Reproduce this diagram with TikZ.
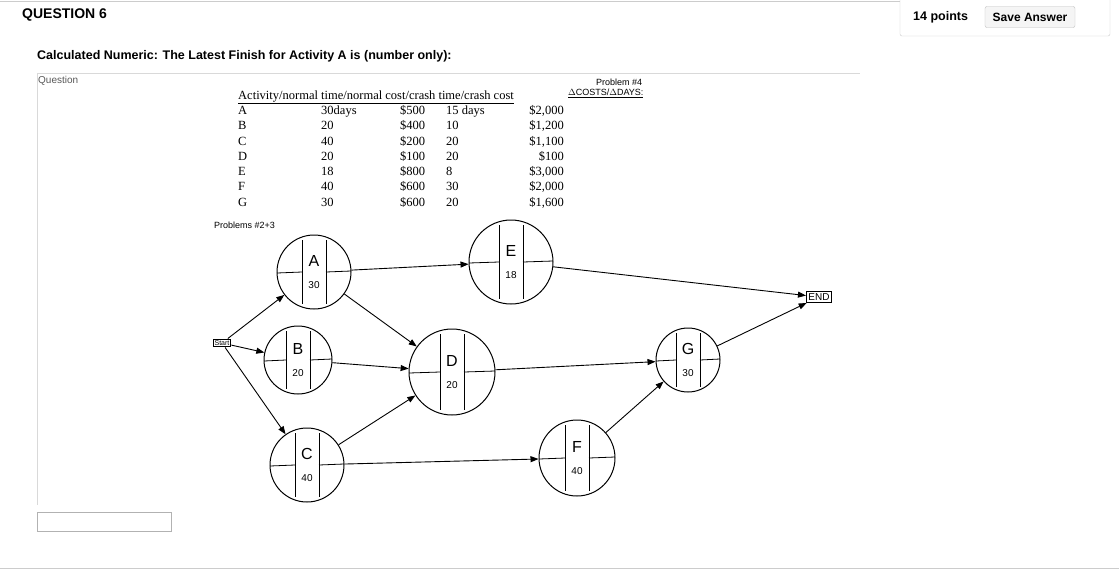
\documentclass[tikz,border=0pt]{standalone}
\usepackage{fontspec}
\setmainfont{Liberation Serif}
\newfontfamily\sans{Liberation Sans}
\usetikzlibrary{arrows.meta}
\begin{document}
\begin{tikzpicture}[x=1pt,y=-1pt,
  act/.style={draw,circle,line width=1pt,minimum size=2*#1,inner sep=0},
  box/.style={draw,line width=1pt,font=\sans\fontsize{10}{10}\selectfont,inner sep=2pt},
  arr/.style={line width=0.9pt,-{Triangle[length=8pt,width=6pt]}},
  hand/.style={font=\sans\fontsize{9}{9}\selectfont},
  row/.style={font=\fontsize{12.5}{12.5}\selectfont,anchor=base west,inner sep=0}]
\useasboundingbox (0,0) rectangle (1119,571);
\fill[white] (0,0) rectangle (1119,571);
% page chrome
\node[font=\sans\bfseries\fontsize{14}{14}\selectfont,anchor=west,inner sep=0] (q) at (22,15) {QUESTION 6};
\draw[gray!40] (0,1) -- (900,1);
\draw[gray!40,rounded corners=2pt] (900,0) -- (900,36) -- (1110,36) -- (1110,0);
\node[font=\sans\bfseries\fontsize{12.5}{12.5}\selectfont,anchor=west,inner sep=0] (pts) at (913,17) {14 points};
\node[draw=gray!50,fill=gray!8,rounded corners=2pt,font=\sans\bfseries\fontsize{12}{12}\selectfont,minimum width=90pt,minimum height=21pt] (save) at (1030,17) {Save Answer};
\node[font=\sans\bfseries\fontsize{12.5}{12.5}\selectfont,anchor=west,inner sep=0] (cn) at (37,56) {Calculated Numeric: The Latest Finish for Activity A is (number only):};
\draw[gray!30] (37,73) -- (860,73);
\draw[gray!30] (37,73) -- (37,505);
\node[font=\sans\fontsize{10}{10}\selectfont,text=gray!70!black,anchor=west,inner sep=0] (ql) at (38,81) {Question};
\node[draw=gray!60,minimum width=134pt,minimum height=19pt,inner sep=0] (inp) at (104,522) {};
\draw[gray!40] (0,568) -- (1119,568);
% table
\node[row] (hd) at (238,99) {\underline{Activity/normal time/normal cost/crash time/crash cost}};
\foreach \y/\a/\t/\c/\ct/\cc in {114/A/30days/\$500/15 days/\$2{,}000,129/B/20/\$400/10/\$1{,}200,145/C/40/\$200/20/\$1{,}100,160/D/20/\$100/20/\$100,175/E/18/\$800/8/\$3{,}000,190/F/40/\$600/30/\$2{,}000,206/G/30/\$600/20/\$1{,}600}{
  \node[row] at (238,\y) {\a};
  \node[row] at (321,\y) {\t};
  \node[row] at (400,\y) {\c};
  \node[row] at (446,\y) {\ct};
  \node[row,anchor=base east] at (564,\y) {\cc};
}
\node[hand,anchor=west,inner sep=0] (p4) at (596,82) {Problem \#4};
\node[hand,anchor=west,inner sep=0] (p4b) at (568,93) {\underline{$\Delta$COSTS/$\Delta$DAYS:}};
\node[hand,anchor=west,inner sep=0] (p23) at (214,225) {Problems \#2+3};
% network
\node[box,font=\sans\fontsize{7}{7}\selectfont,inner sep=1.5pt] (S) at (222,343) {Start};
\node[box] (END) at (819,297) {END};
\foreach \n/\x/\y/\r/\num in {A/314/272/37/30,B/298/360/34/20,C/307/465/37/40,D/452/372/43/20,E/511/262/42/18,F/577/458/38/40,G/688/360/32/30}{
  \node[act=\r] (\n) at (\x,\y) {};
  \draw[line width=0.8pt] (\x-12,\y-\r+5) -- (\x-12,\y+\r-5);
  \draw[line width=0.8pt] (\x+12,\y-\r+5) -- (\x+12,\y+\r-5);
  \draw[line width=0.8pt] (\x-\r,\y+1) -- (\x-12,\y);
  \draw[line width=0.8pt] (\x+12,\y) -- (\x+\r,\y-1);
  \node[font=\sans\fontsize{16}{16}\selectfont] at (\x,\y-11) {\n};
  \node[font=\sans\fontsize{10}{10}\selectfont] at (\x,\y+13) {\num};
}
\draw[arr] (S) -- (A);
\draw[arr] (S) -- (B);
\draw[arr] (S) -- (C);
\draw[arr] (A) -- (E);
\draw[arr] (A) -- (D);
\draw[arr] (B) -- (D);
\draw[arr] (C) -- (D);
\draw[arr] (C) -- (F);
\draw[arr] (D) -- (G);
\draw[arr] (F) -- (G);
\draw[arr] (E) -- (END);
\draw[arr] (G) -- (END);
\end{tikzpicture}
\end{document}
